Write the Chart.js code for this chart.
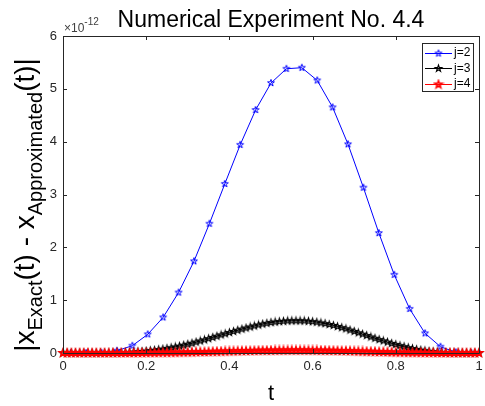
<!DOCTYPE html>
<html>
<head>
<meta charset="utf-8">
<script src="https://cdn.jsdelivr.net/npm/chart.js@4/dist/chart.umd.min.js"></script>
<style>
    html, body { margin: 0; padding: 0; background: #fff; }
    #wrap { width: 485px; height: 406px; }
</style>
</head>
<body>
<div id="wrap"><canvas id="error-chart" width="485" height="406"></canvas></div>
<script>
// values are in units of 1e-12
const seriesLabels = ['j=2', 'j=3', 'j=4'];
const xTicks = [0, 0.2, 0.4, 0.6, 0.8, 1];
const yTicks = [0, 1, 2, 3, 4, 5, 6];

const tCoarse = [0.0185, 0.0556, 0.0926, 0.1296, 0.1667, 0.2037, 0.2407, 0.2778, 0.3148, 0.3519,
    0.3889, 0.4259, 0.4630, 0.5000, 0.5370, 0.5741, 0.6111, 0.6481, 0.6852, 0.7222,
    0.7593, 0.7963, 0.8333, 0.8704, 0.9074, 0.9444, 0.9815];
const errJ2 = [0, 0, 0.004, 0.043, 0.138, 0.353, 0.674, 1.145, 1.736, 2.447,
    3.20, 3.94, 4.60, 5.11, 5.38, 5.40, 5.16, 4.65, 3.95, 3.13,
    2.27, 1.48, 0.836, 0.372, 0.119, 0.013, 0];

const tFine = [0.00, 0.01, 0.02, 0.03, 0.04, 0.05, 0.06, 0.07, 0.08, 0.09,
    0.10, 0.11, 0.12, 0.13, 0.14, 0.15, 0.16, 0.17, 0.18, 0.19,
    0.20, 0.21, 0.22, 0.23, 0.24, 0.25, 0.26, 0.27, 0.28, 0.29,
    0.30, 0.31, 0.32, 0.33, 0.34, 0.35, 0.36, 0.37, 0.38, 0.39,
    0.40, 0.41, 0.42, 0.43, 0.44, 0.45, 0.46, 0.47, 0.48, 0.49,
    0.50, 0.51, 0.52, 0.53, 0.54, 0.55, 0.56, 0.57, 0.58, 0.59,
    0.60, 0.61, 0.62, 0.63, 0.64, 0.65, 0.66, 0.67, 0.68, 0.69,
    0.70, 0.71, 0.72, 0.73, 0.74, 0.75, 0.76, 0.77, 0.78, 0.79,
    0.80, 0.81, 0.82, 0.83, 0.84, 0.85, 0.86, 0.87, 0.88, 0.89,
    0.90, 0.91, 0.92, 0.93, 0.94, 0.95, 0.96, 0.97, 0.98, 0.99, 1.00];
const errJ3 = [0, 0, 0, 0, 0, 0, 0, 0, 0, 0,
    0, 0.001, 0.003, 0.005, 0.007, 0.010, 0.013, 0.017, 0.023, 0.029,
    0.037, 0.045, 0.054, 0.065, 0.075, 0.087, 0.100, 0.115, 0.131, 0.148,
    0.166, 0.185, 0.206, 0.228, 0.249, 0.272, 0.295, 0.318, 0.342, 0.364,
    0.387, 0.409, 0.431, 0.453, 0.473, 0.493, 0.512, 0.531, 0.548, 0.563,
    0.577, 0.587, 0.595, 0.602, 0.607, 0.609, 0.610, 0.609, 0.607, 0.601,
    0.593, 0.584, 0.570, 0.556, 0.540, 0.522, 0.501, 0.480, 0.458, 0.434,
    0.409, 0.383, 0.357, 0.331, 0.304, 0.279, 0.254, 0.230, 0.206, 0.182,
    0.160, 0.139, 0.120, 0.101, 0.084, 0.068, 0.055, 0.043, 0.032, 0.024,
    0.017, 0.012, 0.007, 0.004, 0.002, 0.001, 0, 0, 0, 0, 0];
const errJ4 = [0, 0, 0, 0, 0, 0, 0, 0, 0, 0,
    0, 0, 0, 0, 0, 0, 0.001, 0.001, 0.002, 0.002,
    0.003, 0.004, 0.004, 0.005, 0.006, 0.007, 0.008, 0.009, 0.011, 0.012,
    0.014, 0.015, 0.017, 0.019, 0.020, 0.022, 0.024, 0.026, 0.028, 0.030,
    0.032, 0.034, 0.035, 0.037, 0.039, 0.040, 0.042, 0.044, 0.045, 0.046,
    0.047, 0.048, 0.049, 0.049, 0.050, 0.050, 0.050, 0.050, 0.050, 0.049,
    0.049, 0.048, 0.047, 0.046, 0.044, 0.043, 0.041, 0.039, 0.038, 0.036,
    0.034, 0.031, 0.029, 0.027, 0.025, 0.023, 0.021, 0.019, 0.017, 0.015,
    0.013, 0.011, 0.010, 0.008, 0.007, 0.006, 0.005, 0.004, 0.003, 0.002,
    0.001, 0.001, 0, 0, 0, 0, 0, 0, 0, 0, 0];

const seriesColors = ['#0000ff', '#000000', '#ff0000'];
const axisColor = '#262626';
const fontFamily = '"Liberation Sans", Arial, Helvetica, sans-serif';

// hollow pentagram, like matlab's 'p' marker
function pentagram(color, r, lw) {
    const size = Math.ceil(2 * r + 4);
    const c = document.createElement('canvas');
    c.width = size;
    c.height = size;
    const ctx = c.getContext('2d');
    ctx.strokeStyle = color;
    ctx.lineWidth = lw;
    ctx.beginPath();
    for (let i = 0; i < 10; i++) {
        const rr = (i % 2 == 0) ? r : r * 0.4;
        const a = -Math.PI / 2 + i * Math.PI / 5;
        const px = size / 2 + rr * Math.cos(a);
        const py = size / 2 + rr * Math.sin(a);
        if (i == 0) ctx.moveTo(px, py); else ctx.lineTo(px, py);
    }
    ctx.closePath();
    ctx.stroke();
    return c;
}

const markers = [pentagram(seriesColors[0], 3.6, 1), pentagram(seriesColors[1], 3.4, 1.2), pentagram(seriesColors[2], 3.8, 1.6)];

function toPoints(xs, ys) {
    return xs.map((x, i) => ({ x: x, y: ys[i] }));
}

function drawText(ctx, parts, x, y) {
    // parts: [text, fontSize, baselineShift]
    let cx = x;
    parts.forEach(p => {
        ctx.font = p[1] + 'px ' + fontFamily;
        ctx.fillText(p[0], cx, y + p[2]);
        cx += ctx.measureText(p[0]).width;
    });
    return cx - x;
}

function partsWidth(ctx, parts) {
    let w = 0;
    parts.forEach(p => {
        ctx.font = p[1] + 'px ' + fontFamily;
        w += ctx.measureText(p[0]).width;
    });
    return w;
}

const matlabAxes = {
    id: 'matlabAxes',
    afterDraw(chart) {
        const ctx = chart.ctx;
        const a = chart.chartArea;
        const xs = chart.scales.x;
        const ys = chart.scales.y;
        ctx.save();

        // box + inward ticks on all four sides
        ctx.strokeStyle = axisColor;
        ctx.lineWidth = 1;
        ctx.beginPath();
        ctx.rect(Math.round(a.left) + 0.5, Math.round(a.top) + 0.5, Math.round(a.right - a.left), Math.round(a.bottom - a.top));
        xTicks.forEach(v => {
            const px = Math.round(xs.getPixelForValue(v)) + 0.5;
            ctx.moveTo(px, a.bottom);
            ctx.lineTo(px, a.bottom - 4);
            ctx.moveTo(px, a.top);
            ctx.lineTo(px, a.top + 4);
        });
        yTicks.forEach(v => {
            const py = Math.round(ys.getPixelForValue(v)) + 0.5;
            ctx.moveTo(a.left, py);
            ctx.lineTo(a.left + 4, py);
            ctx.moveTo(a.right, py);
            ctx.lineTo(a.right - 4, py);
        });
        ctx.stroke();

        ctx.fillStyle = '#000';
        ctx.textBaseline = 'alphabetic';

        // title
        ctx.font = '23px ' + fontFamily;
        ctx.textAlign = 'center';
        ctx.fillText('Numerical Experiment No. 4.4', (a.left + a.right) / 2, 27);

        // exponent label
        ctx.textAlign = 'left';
        ctx.fillStyle = '#404040';
        drawText(ctx, [['\u00d710', 12, 0], ['-12', 10, -7]], a.left + 1, 32);

        // x label
        ctx.fillStyle = '#000';
        ctx.font = '22px ' + fontFamily;
        ctx.textAlign = 'center';
        ctx.fillText('t', (a.left + a.right) / 2, 400);

        // y label with subscripts
        const yParts = [['|x', 28, 0], ['Exact', 20, 8], ['(t) - x', 28, 0], ['Approximated', 20, 8], ['(t)|', 28, 0]];
        ctx.textAlign = 'left';
        ctx.save();
        ctx.translate(34, 205);
        ctx.rotate(-Math.PI / 2);
        const w = partsWidth(ctx, yParts);
        drawText(ctx, yParts, -w / 2, 0);
        ctx.restore();

        // legend
        const lx = 422, ly = 43, lw = 51, lh = 48;
        ctx.fillStyle = '#fff';
        ctx.fillRect(lx, ly, lw, lh);
        ctx.strokeStyle = axisColor;
        ctx.lineWidth = 1;
        ctx.strokeRect(lx + 0.5, ly + 0.5, lw, lh);
        ctx.font = '12px ' + fontFamily;
        ctx.textBaseline = 'middle';
        seriesLabels.forEach((label, i) => {
            const ry = ly + 9.5 + i * 15.5;
            ctx.strokeStyle = seriesColors[i];
            ctx.beginPath();
            ctx.moveTo(lx + 3, Math.round(ry) + 0.5);
            ctx.lineTo(lx + 30, Math.round(ry) + 0.5);
            ctx.stroke();
            const m = markers[i];
            ctx.drawImage(m, lx + 16.5 - m.width / 2, Math.round(ry) + 0.5 - m.height / 2);
            ctx.fillStyle = '#000';
            ctx.fillText(label, lx + 32, ry + 0.5);
        });

        ctx.restore();
    }
};

const chart = new Chart(document.getElementById('error-chart'), {
    type: 'line',
    data: {
        datasets: [
            {
                label: seriesLabels[0],
                data: toPoints(tCoarse, errJ2),
                borderColor: seriesColors[0],
                borderWidth: 1,
                pointStyle: markers[0],
                order: 2,
                clip: 8
            },
            {
                label: seriesLabels[1],
                data: toPoints(tFine, errJ3),
                borderColor: seriesColors[1],
                borderWidth: 1,
                pointStyle: markers[1],
                order: 1,
                clip: 8
            },
            {
                label: seriesLabels[2],
                data: toPoints(tFine, errJ4),
                borderColor: seriesColors[2],
                borderWidth: 2,
                pointStyle: markers[2],
                order: 0,
                clip: 8
            }
        ]
    },
    options: {
        responsive: false,
        animation: false,
        events: [],
        layout: {
            padding: { top: 36, right: 4, bottom: 0, left: 0 }
        },
        elements: {
            line: { tension: 0, fill: false }
        },
        plugins: {
            legend: { display: false },
            title: { display: false },
            tooltip: { enabled: false }
        },
        scales: {
            x: {
                type: 'linear',
                min: 0,
                max: 1,
                grid: { display: false, drawTicks: false },
                border: { display: false },
                afterBuildTicks: scale => { scale.ticks = xTicks.map(v => ({ value: v })); },
                afterFit: scale => {
                    scale.height = 53;
                    scale.paddingLeft = 0;
                    scale.paddingRight = 0;
                },
                ticks: {
                    color: axisColor,
                    padding: 6,
                    maxRotation: 0,
                    font: { family: fontFamily, size: 13 },
                    callback: v => String(Number(v.toFixed(1)))
                }
            },
            y: {
                min: 0,
                max: 6,
                grid: { display: false, drawTicks: false },
                border: { display: false },
                afterBuildTicks: scale => { scale.ticks = yTicks.map(v => ({ value: v })); },
                afterFit: scale => {
                    scale.width = 63;
                    scale.paddingTop = 0;
                    scale.paddingBottom = 0;
                },
                ticks: {
                    color: axisColor,
                    padding: 6,
                    font: { family: fontFamily, size: 13 }
                }
            }
        }
    },
    plugins: [matlabAxes]
});
</script>
</body>
</html>
